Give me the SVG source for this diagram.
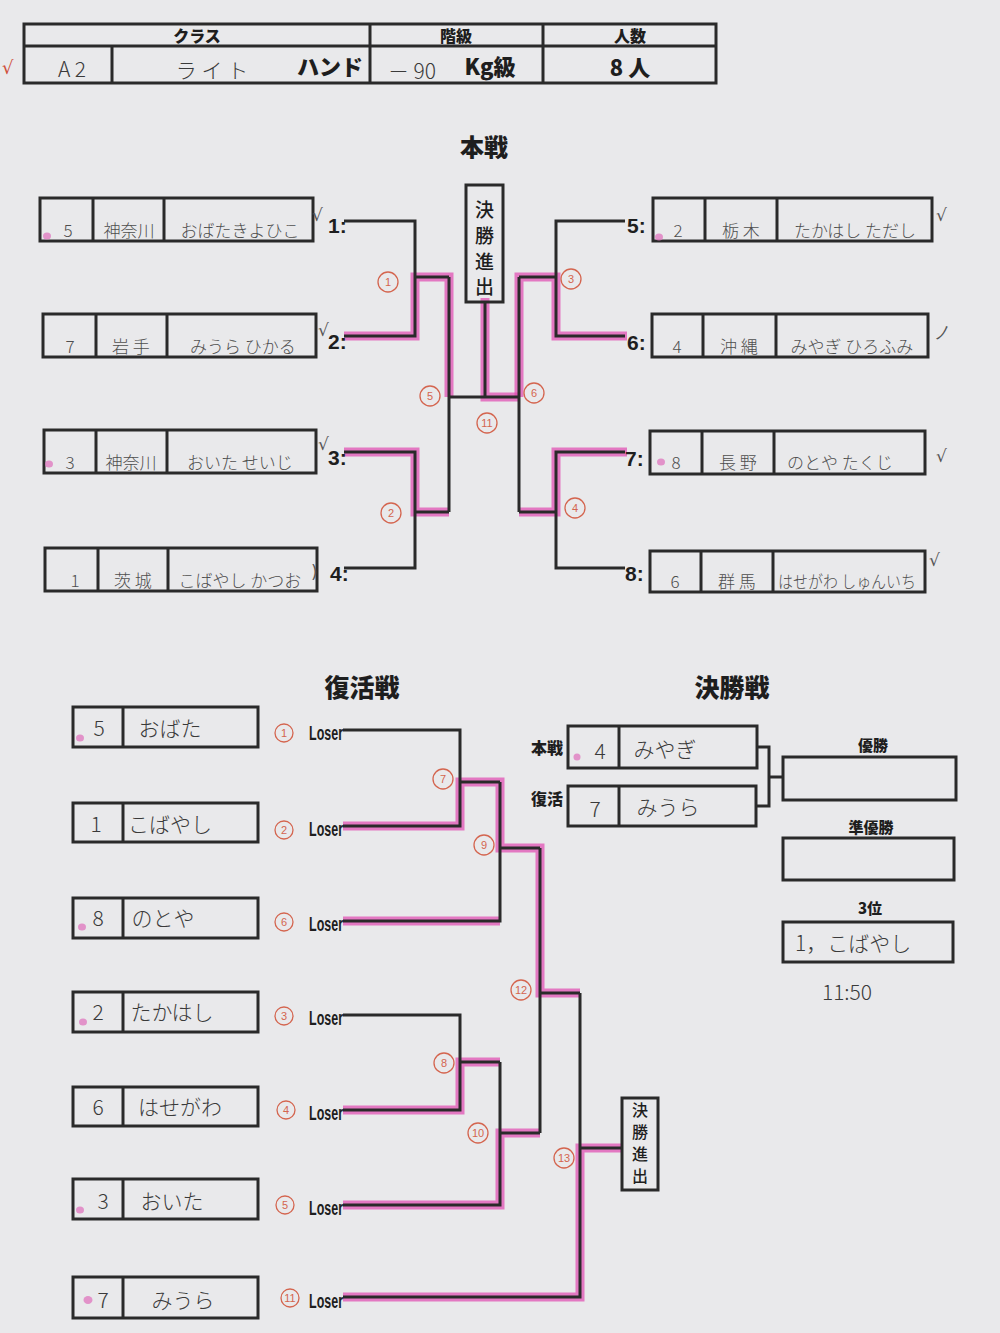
<svg xmlns="http://www.w3.org/2000/svg" width="1000" height="1333" viewBox="0 0 1000 1333">
<style>
.bg{fill:#e9e9eb}
.ln{stroke:#2a2a2a;stroke-width:3;fill:none}
.hl{stroke:#e04cb2;stroke-width:9;fill:none;opacity:0.72;stroke-linejoin:miter}
.box{fill:none;stroke:#2a2a2a;stroke-width:3}
.hw{font-family:"Noto Sans CJK JP","Noto Sans",sans-serif;fill:#4e4e4e;font-size:17px;font-weight:300}
.hwb{font-family:"Noto Sans CJK JP","Noto Sans",sans-serif;fill:#3a3a3a;font-size:21px;font-weight:300}
.lb{font-family:"Liberation Sans","Noto Sans CJK JP",sans-serif;font-weight:bold;fill:#1e1e1e}
.ttl{font-family:"Noto Sans CJK JP",sans-serif;font-weight:900;fill:#1e1e1e;text-anchor:middle}
.vt{font-family:"Noto Sans CJK JP",sans-serif;font-weight:500;fill:#1e1e1e;text-anchor:middle}
.num{font-family:"Liberation Sans",sans-serif;font-weight:bold;fill:#1e1e1e;font-size:21px}
.rc{fill:none;stroke:#d4654f;stroke-width:1.3}
.rn{font-family:"Liberation Sans",sans-serif;font-size:11px;fill:#d4654f;text-anchor:middle}
.ck{font-family:"DejaVu Sans",sans-serif;fill:#555;font-size:17px}
.dot{fill:#e07cc0;opacity:0.8}
.mid{text-anchor:middle}
</style>
<rect class="bg" x="0" y="0" width="1000" height="1333"/>

<g id="header">
<rect class="box" x="24" y="24" width="692" height="59"/>
<path class="ln" d="M24 46 H716 M370 24 V83 M543 24 V83 M112 46 V83"/>
<text class="ttl" x="197" y="42" font-size="16">クラス</text>
<text class="ttl" x="456" y="42" font-size="16">階級</text>
<text class="ttl" x="630" y="42" font-size="16">人数</text>
<text class="hwb mid" x="72" y="77" font-size="20">A 2</text>
<text class="hwb mid" x="212" y="78" font-size="18">ラ イ ト</text>
<text class="ttl" x="330" y="75" font-size="22">ハンド</text>
<text class="hwb mid" x="412" y="79" font-size="20">－ 90</text>
<text class="ttl" x="490" y="75" font-size="22">Kg級</text>
<text class="ttl" x="630" y="76" font-size="22">8 人</text>
<text x="2" y="74" font-family="DejaVu Sans,sans-serif" font-size="18" fill="#d0503c">√</text>
</g>

<text class="ttl" x="484" y="156" font-size="24">本戦</text>
<text class="ttl" x="362" y="697" font-size="25">復活戦</text>
<text class="ttl" x="732" y="697" font-size="25">決勝戦</text>

<g id="connectors">
<path class="hl" d="M344 336 H415 V277 H449 V397"/>
<path class="hl" d="M344 452 H415 V512 H449"/>
<path class="hl" d="M485 298 V397 H519"/>
<path class="hl" d="M519 397 V277 H556 V336 H627"/>
<path class="hl" d="M627 452 H556 V512 H519"/>
<path class="ln" d="M344 221 H415 V336 H344"/>
<path class="ln" d="M415 277 H449"/>
<path class="ln" d="M344 452 H415 V568 H344"/>
<path class="ln" d="M415 512 H449"/>
<path class="ln" d="M449 277 V512 M449 397 H519"/>
<path class="ln" d="M625 221 H556 V336 H625"/>
<path class="ln" d="M556 277 H519"/>
<path class="ln" d="M625 452 H556 V568 H625"/>
<path class="ln" d="M556 512 H519"/>
<path class="ln" d="M519 277 V512"/>
<path class="ln" d="M485 302 V397"/>
<path class="hl" d="M343 826 H460 V782 H500 V848 H540 V993 H580"/>
<path class="hl" d="M343 921 H500"/>
<path class="hl" d="M343 1110 H460 V1062 H500"/>
<path class="hl" d="M343 1205 H500 V1133 H540"/>
<path class="hl" d="M343 1297 H580 V1148 H622"/>
<path class="ln" d="M343 730 H460 V826 H343"/>
<path class="ln" d="M460 782 H500"/>
<path class="ln" d="M343 921 H500 V782"/>
<path class="ln" d="M500 848 H540"/>
<path class="ln" d="M343 1015 H460 V1110 H343"/>
<path class="ln" d="M460 1062 H500"/>
<path class="ln" d="M343 1205 H500 V1062"/>
<path class="ln" d="M500 1133 H540"/>
<path class="ln" d="M540 848 V1133"/>
<path class="ln" d="M540 993 H580"/>
<path class="ln" d="M343 1297 H580 V993"/>
<path class="ln" d="M580 1148 H622"/>
<path class="ln" d="M757 747 H769 V806 H756 M769 777 H783"/>
</g>

<g id="final-advance-main">
<rect class="box" x="466" y="185" width="37" height="117"/>
<text class="vt" x="484.5" y="217" font-size="19">決</text>
<text class="vt" x="484.5" y="243" font-size="19">勝</text>
<text class="vt" x="484.5" y="269" font-size="19">進</text>
<text class="vt" x="484.5" y="294" font-size="19">出</text>
</g>

<g id="p1">
<rect class="box" x="40" y="198" width="273" height="43"/>
<path class="ln" d="M93 198 V241 M164 198 V241"/>
<ellipse class="dot" cx="47" cy="236" rx="4" ry="3.5"/>
<text class="hw mid" x="68" y="237">5</text>
<text class="hw mid" x="129" y="237">神奈川</text>
<text class="hw mid" x="240" y="237">おばたきよひこ</text>
<text class="num" x="328" y="233">1:</text>
<text class="ck" x="312" y="221" font-size="14">√</text>
</g>
<g id="p2">
<rect class="box" x="43" y="314" width="273" height="43"/>
<path class="ln" d="M96 314 V357 M167 314 V357"/>
<text class="hw mid" x="70" y="353">7</text>
<text class="hw mid" x="131" y="353">岩 手</text>
<text class="hw mid" x="243" y="353">みうら ひかる</text>
<text class="num" x="328" y="349">2:</text>
<text class="ck" x="318" y="336" font-size="14">√</text>
</g>
<g id="p3">
<rect class="box" x="44" y="430" width="272" height="43"/>
<path class="ln" d="M96 430 V473 M167 430 V473"/>
<ellipse class="dot" cx="49" cy="464" rx="4" ry="3.5"/>
<text class="hw mid" x="70" y="469">3</text>
<text class="hw mid" x="131" y="469">神奈川</text>
<text class="hw mid" x="240" y="469">おいた せいじ</text>
<text class="num" x="328" y="465">3:</text>
<text class="ck" x="318" y="450" font-size="14">√</text>
</g>
<g id="p4">
<rect class="box" x="45" y="548" width="272" height="43"/>
<path class="ln" d="M98 548 V591 M168 548 V591"/>
<text class="hw mid" x="75" y="587">1</text>
<text class="hw mid" x="133" y="587">茨 城</text>
<text class="hw mid" x="240" y="587">こばやし かつお</text>
<text class="num" x="330" y="581">4:</text>
<text class="ck" x="311" y="578" font-size="14">)</text>
</g>
<g id="p5">
<rect class="box" x="653" y="198" width="279" height="43"/>
<path class="ln" d="M705 198 V241 M777 198 V241"/>
<ellipse class="dot" cx="659" cy="237" rx="4" ry="3.5"/>
<text class="hw mid" x="678" y="237">2</text>
<text class="hw mid" x="741" y="237">栃 木</text>
<text class="hw mid" x="855" y="237">たかはし ただし</text>
<text class="num" x="627" y="233">5:</text>
<text class="ck" x="936" y="221">√</text>
</g>
<g id="p6">
<rect class="box" x="652" y="314" width="276" height="43"/>
<path class="ln" d="M703 314 V357 M776 314 V357"/>
<text class="hw mid" x="677" y="353">4</text>
<text class="hw mid" x="739" y="353">沖 縄</text>
<text class="hw mid" x="852" y="353">みやぎ ひろふみ</text>
<text class="num" x="627" y="350">6:</text>
<text class="ck" x="934" y="338">ノ</text>
</g>
<g id="p7">
<rect class="box" x="650" y="431" width="275" height="43"/>
<path class="ln" d="M702 431 V474 M774 431 V474"/>
<ellipse class="dot" cx="661" cy="462" rx="4" ry="3.5"/>
<text class="hw mid" x="676" y="469">8</text>
<text class="hw mid" x="738" y="469">長 野</text>
<text class="hw mid" x="840" y="469">のとや たくじ</text>
<text class="num" x="625" y="466">7:</text>
<text class="ck" x="936" y="462" font-size="20">√</text>
</g>
<g id="p8">
<rect class="box" x="650" y="551" width="275" height="41"/>
<path class="ln" d="M701 551 V592 M773 551 V592"/>
<text class="hw mid" x="675" y="588">6</text>
<text class="hw mid" x="737" y="588">群 馬</text>
<text class="hw" x="778" y="588" textLength="138" lengthAdjust="spacingAndGlyphs">はせがわ しゅんいち</text>
<text class="num" x="625" y="581">8:</text>
<text class="ck" x="929" y="566" font-size="15">√</text>
</g>

<g id="match-numbers">
<circle class="rc" cx="388" cy="282" r="10"/><text class="rn" x="388" y="286">1</text>
<circle class="rc" cx="391" cy="513" r="10"/><text class="rn" x="391" y="517">2</text>
<circle class="rc" cx="571" cy="279" r="10"/><text class="rn" x="571" y="283">3</text>
<circle class="rc" cx="575" cy="508" r="10"/><text class="rn" x="575" y="512">4</text>
<circle class="rc" cx="430" cy="396" r="10"/><text class="rn" x="430" y="400">5</text>
<circle class="rc" cx="534" cy="393" r="10"/><text class="rn" x="534" y="397">6</text>
<circle class="rc" cx="487" cy="423" r="10"/><text class="rn" x="487" y="427">11</text>
<circle class="rc" cx="443" cy="779" r="10"/><text class="rn" x="443" y="783">7</text>
<circle class="rc" cx="484" cy="845" r="10"/><text class="rn" x="484" y="849">9</text>
<circle class="rc" cx="521" cy="990" r="10"/><text class="rn" x="521" y="994">12</text>
<circle class="rc" cx="444" cy="1063" r="10"/><text class="rn" x="444" y="1067">8</text>
<circle class="rc" cx="478" cy="1133" r="10"/><text class="rn" x="478" y="1137">10</text>
<circle class="rc" cx="564" cy="1158" r="10"/><text class="rn" x="564" y="1162">13</text>
</g>

<g id="r1">
<rect class="box" x="73" y="707" width="185" height="40"/>
<path class="ln" d="M123 707 V747"/>
<ellipse class="dot" cx="80" cy="738" rx="4" ry="3.5"/>
<text class="hwb mid" x="99" y="736">5</text>
<text class="hwb mid" x="170" y="736">おばた</text>
<circle class="rc" cx="284" cy="733" r="9"/><text class="rn" x="284" y="737">1</text>
<text class="lb" x="309" y="740" font-size="20" textLength="34" lengthAdjust="spacingAndGlyphs">Loser</text>
</g>
<g id="r2">
<rect class="box" x="73" y="803" width="185" height="39"/>
<path class="ln" d="M123 803 V842"/>
<text class="hwb mid" x="96" y="832">1</text>
<text class="hwb mid" x="170" y="832">こばやし</text>
<circle class="rc" cx="284" cy="830" r="9"/><text class="rn" x="284" y="834">2</text>
<text class="lb" x="309" y="836" font-size="20" textLength="34" lengthAdjust="spacingAndGlyphs">Loser</text>
</g>
<g id="r3">
<rect class="box" x="73" y="898" width="185" height="40"/>
<path class="ln" d="M123 898 V938"/>
<ellipse class="dot" cx="82" cy="927" rx="4" ry="3.5"/>
<text class="hwb mid" x="98" y="926">8</text>
<text class="hwb mid" x="163" y="926">のとや</text>
<circle class="rc" cx="284" cy="922" r="9"/><text class="rn" x="284" y="926">6</text>
<text class="lb" x="309" y="931" font-size="20" textLength="34" lengthAdjust="spacingAndGlyphs">Loser</text>
</g>
<g id="r4">
<rect class="box" x="73" y="992" width="185" height="40"/>
<path class="ln" d="M123 992 V1032"/>
<ellipse class="dot" cx="83" cy="1022" rx="4" ry="3.5"/>
<text class="hwb mid" x="98" y="1020">2</text>
<text class="hwb mid" x="172" y="1020">たかはし</text>
<circle class="rc" cx="284" cy="1016" r="9"/><text class="rn" x="284" y="1020">3</text>
<text class="lb" x="309" y="1025" font-size="20" textLength="34" lengthAdjust="spacingAndGlyphs">Loser</text>
</g>
<g id="r5">
<rect class="box" x="73" y="1087" width="185" height="39"/>
<path class="ln" d="M123 1087 V1126"/>
<text class="hwb mid" x="98" y="1115">6</text>
<text class="hwb mid" x="180" y="1115">はせがわ</text>
<circle class="rc" cx="286" cy="1110" r="9"/><text class="rn" x="286" y="1114">4</text>
<text class="lb" x="309" y="1120" font-size="20" textLength="34" lengthAdjust="spacingAndGlyphs">Loser</text>
</g>
<g id="r6">
<rect class="box" x="73" y="1179" width="185" height="40"/>
<path class="ln" d="M123 1179 V1219"/>
<ellipse class="dot" cx="80" cy="1210" rx="4" ry="3.5"/>
<text class="hwb mid" x="103" y="1209">3</text>
<text class="hwb mid" x="172" y="1209">おいた</text>
<circle class="rc" cx="285" cy="1205" r="9"/><text class="rn" x="285" y="1209">5</text>
<text class="lb" x="309" y="1215" font-size="20" textLength="34" lengthAdjust="spacingAndGlyphs">Loser</text>
</g>
<g id="r7">
<rect class="box" x="73" y="1277" width="185" height="41"/>
<path class="ln" d="M123 1277 V1318"/>
<ellipse class="dot" cx="88" cy="1300" rx="4.5" ry="4"/>
<text class="hwb mid" x="103" y="1308">7</text>
<text class="hwb mid" x="183" y="1308">みうら</text>
<circle class="rc" cx="290" cy="1298" r="9"/><text class="rn" x="290" y="1302">11</text>
<text class="lb" x="309" y="1308" font-size="20" textLength="34" lengthAdjust="spacingAndGlyphs">Loser</text>
</g>

<g id="final-advance-repechage">
<rect class="box" x="622" y="1098" width="36" height="92"/>
<text class="vt" x="640" y="1116" font-size="16">決</text>
<text class="vt" x="640" y="1138" font-size="16">勝</text>
<text class="vt" x="640" y="1160" font-size="16">進</text>
<text class="vt" x="640" y="1182" font-size="16">出</text>
</g>

<g id="f1">
<text class="ttl" x="547" y="754" font-size="16">本戦</text>
<rect class="box" x="568" y="726" width="189" height="42"/>
<path class="ln" d="M619 726 V768"/>
<ellipse class="dot" cx="577" cy="757" rx="3.5" ry="3.5"/>
<text class="hwb mid" x="600" y="759">4</text>
<text class="hwb mid" x="665" y="757">みやぎ</text>
</g>
<g id="f2">
<text class="ttl" x="547" y="805" font-size="16">復活</text>
<rect class="box" x="568" y="786" width="188" height="40"/>
<path class="ln" d="M619 786 V826"/>
<text class="hwb mid" x="595" y="817">7</text>
<text class="hwb mid" x="668" y="815">みうら</text>
</g>
<g id="champion">
<text class="ttl" x="873" y="751" font-size="15">優勝</text>
<rect class="box" x="783" y="757" width="173" height="43"/>
</g>
<g id="runner-up">
<text class="ttl" x="871" y="833" font-size="15">準優勝</text>
<rect class="box" x="783" y="838" width="171" height="42"/>
</g>
<g id="third">
<text class="ttl" x="870" y="914" font-size="15">3位</text>
<rect class="box" x="783" y="922" width="170" height="40"/>
<text class="hwb" x="795" y="951" font-size="19">1，こばやし</text>
<text class="hwb mid" x="847" y="1000" font-size="20">11:50</text>
</g>
</svg>
